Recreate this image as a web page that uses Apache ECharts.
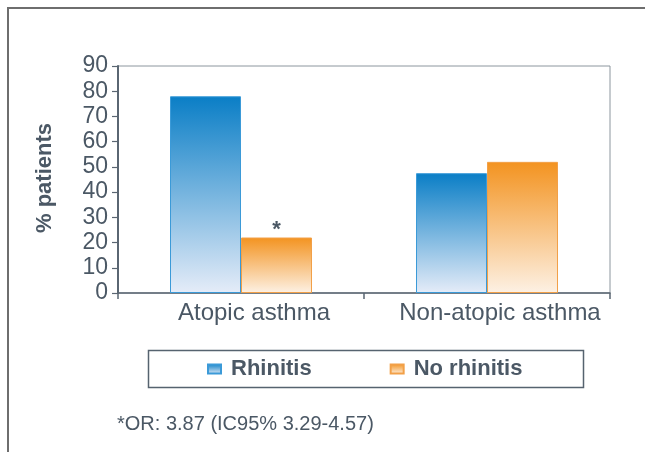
<!DOCTYPE html>
<html>
<head>
<meta charset="utf-8">
<script src="https://cdn.jsdelivr.net/npm/echarts@6/dist/echarts.min.js"></script>
<style>
  html, body { margin: 0; padding: 0; background: #fff; }
  #chart { width: 645px; height: 452px; }
</style>
</head>
<body>
<div id="chart"></div>
<script>
// Asthma type vs. rhinitis: share of patients
const categories = ['Atopic asthma', 'Non-atopic asthma'];
const rhinitis = [78, 47.5];
const noRhinitis = [22, 52];
const yTicks = { min: 0, max: 90, interval: 10 };
const seriesNames = ['Rhinitis', 'No rhinitis'];
const footnote = '*OR: 3.87 (IC95% 3.29-4.57)';

const TEXT = '#4b5865';
const FONT = 'Liberation Sans, Arial, Helvetica, sans-serif';

function vGrad(top, bottom) {
  return new echarts.graphic.LinearGradient(0, 0, 0, 1, [
    { offset: 0, color: top },
    { offset: 1, color: bottom }
  ]);
}

const chart = echarts.init(document.getElementById('chart'), null, { renderer: 'canvas' });

chart.setOption({
  animation: false,
  backgroundColor: '#ffffff',
  textStyle: { fontFamily: FONT },
  grid: {
    left: 118, right: 35, top: 66, bottom: 159,
    show: true, borderColor: '#8c969e', borderWidth: 1, backgroundColor: 'transparent'
  },
  legend: {
    data: seriesNames,
    left: 207, top: 357, padding: 0,
    icon: 'rect', itemWidth: 13, itemHeight: 9, itemGap: 78,
    textStyle: { color: TEXT, fontSize: 22, fontWeight: 'bold', fontFamily: FONT, lineHeight: 24, padding: [0, 0, 0, 5] }
  },
  xAxis: {
    type: 'category',
    data: categories,
    axisLine: { lineStyle: { color: '#5a6672', width: 1.5 } },
    axisTick: { show: true, length: 6, lineStyle: { color: '#5a6672', width: 1.5 } },
    axisLabel: {
      color: TEXT, fontSize: 24, margin: 8, fontFamily: FONT,
      interval: 0, hideOverlap: false, padding: [0, 0, 0, 26]
    },
    splitLine: { show: false }
  },
  yAxis: {
    type: 'value',
    min: yTicks.min, max: yTicks.max, interval: yTicks.interval,
    axisLine: { show: true, lineStyle: { color: '#5a6672', width: 2 } },
    axisTick: { show: true, length: 6, lineStyle: { color: '#5a6672', width: 1.2 } },
    axisLabel: { color: TEXT, fontSize: 23, margin: 10, fontFamily: FONT },
    splitLine: { show: false }
  },
  series: [
    {
      name: seriesNames[0],
      type: 'bar',
      data: rhinitis,
      barWidth: 71,
      barGap: '0%',
      itemStyle: {
        color: vGrad('#0a7ec6', '#e5ecf8'),
        borderColor: '#3b9ad8',
        borderWidth: 1
      }
    },
    {
      name: seriesNames[1],
      type: 'bar',
      data: noRhinitis.map((v, i) => i === 0
        ? { value: v, label: { show: true, position: 'top', distance: -3, formatter: '*', color: TEXT, fontSize: 22, fontWeight: 'bold', fontFamily: FONT } }
        : v),
      barWidth: 71,
      itemStyle: {
        color: vGrad('#f39320', '#fdf1e4'),
        borderColor: '#f2a048',
        borderWidth: 1
      }
    }
  ],
  graphic: [
    {
      type: 'rect', silent: true,
      shape: { x: 8, y: 8, width: 700, height: 520 },
      style: { fill: 'none', stroke: '#6e6e6e', lineWidth: 2 }
    },
    {
      type: 'text', silent: true,
      x: 45, y: 178, rotation: Math.PI / 2,
      style: {
        text: '% patients', fill: TEXT,
        font: 'bold 22px ' + FONT,
        textAlign: 'center', textVerticalAlign: 'middle'
      }
    },
    {
      type: 'rect', silent: true,
      shape: { x: 148.5, y: 350.5, width: 435, height: 37 },
      style: { fill: 'none', stroke: '#56636f', lineWidth: 1.5 }
    },
    {
      type: 'text', silent: true,
      x: 117, y: 424,
      style: {
        text: footnote, fill: TEXT,
        font: '20px ' + FONT,
        textAlign: 'left', textVerticalAlign: 'middle'
      }
    }
  ]
});
</script>
</body>
</html>
